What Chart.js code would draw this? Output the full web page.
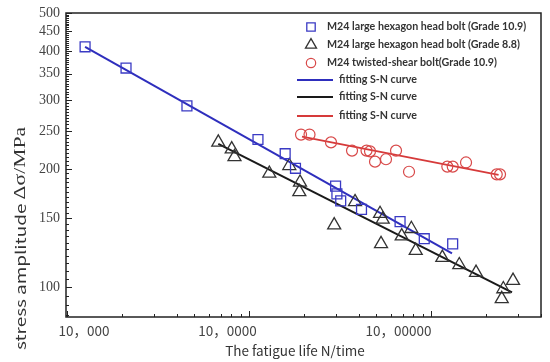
<!DOCTYPE html>
<html><head><meta charset="utf-8">
<script src="https://cdn.jsdelivr.net/npm/chart.js@4/dist/chart.umd.min.js"></script>
<style>html,body{margin:0;padding:0;background:#fff}#wrap{width:550px;height:362px}</style>
</head><body><div id="wrap"><canvas id="c" width="550" height="362"></canvas></div>
<script>
// ---- data ----
const bolt109N = [12570, 21100, 45600, 112000, 158000, 180000, 299000, 304000, 319000, 415000, 676000, 918000, 1315000];
const bolt109S = [410, 362, 290, 238, 219, 201, 181, 173, 166, 158, 147, 133, 129];
const bolt88N = [67800, 80350, 83230, 129300, 166500, 190600, 189000, 293800, 382300, 524700, 542800, 531300, 690200, 779700, 824000, 1154000, 1430000, 1767000, 2822000, 2496000, 2446000];
const bolt88S = [234, 225, 215, 195, 204, 185, 175, 144, 165, 154, 149, 129, 135, 141, 124, 119, 114, 109, 104, 99, 93.4];
const shearN = [193100, 215000, 282200, 368100, 442200, 462200, 492400, 565700, 642200, 757000, 1229000, 1316000, 1557000, 2296000, 2394000];
const shearS = [245, 245, 234, 223, 223, 222, 209, 212, 223, 197, 203, 203, 208, 194, 194];
const fitBlueN = [12570, 1304000];  const fitBlueS = [410, 122];
const fitBlackN = [67800, 2786000]; const fitBlackS = [232, 97];
const fitRedN = [195500, 2350000];  const fitRedS = [242, 193.5];
const yMajor = [100, 150, 200, 250, 300, 350, 400, 450, 500];
const xMajor = [10000, 100000, 1000000];
const xLabels = ['10，000', '10，0000', '10，00000'];
const legendLabels = ['M24 large hexagon head bolt (Grade 10.9)', 'M24 large hexagon head bolt (Grade 8.8)', 'M24 twisted-shear bolt(Grade 10.9)', 'fitting S-N curve', 'fitting S-N curve', 'fitting S-N curve'];
const xTitle = 'The fatigue life N/time';
const yTitleA = 'stress amplitude ';
const yTitleB = 'Δσ/MPa';

const pts = (xs, ys) => xs.map((x, i) => ({x, y: ys[i]}));
const BLUE = '#2e2ebd', BLACK = '#1a1a1a', RED = '#d63a3a';

const datasets = [
  {label: legendLabels[0], data: pts(bolt109N, bolt109S), pointStyle: 'rect', pointRadius: 7, borderColor: '#3a3ac4', backgroundColor: 'rgba(0,0,0,0)', borderWidth: 1.3, showLine: false, order: 1},
  {label: legendLabels[1], data: pts(bolt88N, bolt88S), pointStyle: 'triangle', pointRadius: 7.5, borderColor: '#333', backgroundColor: 'rgba(0,0,0,0)', borderWidth: 1.3, showLine: false, order: 1},
  {label: legendLabels[2], data: pts(shearN, shearS), pointStyle: 'circle', pointRadius: 5.5, borderColor: '#d84848', backgroundColor: 'rgba(0,0,0,0)', borderWidth: 1.2, showLine: false, order: 1},
  {label: legendLabels[3], data: pts(fitBlueN, fitBlueS), showLine: true, pointRadius: 0, borderColor: BLUE, borderWidth: 2, order: 2},
  {label: legendLabels[4], data: pts(fitBlackN, fitBlackS), showLine: true, pointRadius: 0, borderColor: BLACK, borderWidth: 2, order: 2},
  {label: legendLabels[5], data: pts(fitRedN, fitRedS), showLine: true, pointRadius: 0, borderColor: RED, borderWidth: 1.8, order: 2}
];

const deco = {
  id: 'deco',
  afterDatasetsDraw(chart) {
    const ctx = chart.ctx, a = chart.chartArea;
    const xs = chart.scales.x, ys = chart.scales.y;
    ctx.save();
    // frame
    ctx.strokeStyle = '#222'; ctx.lineWidth = 1.5;
    ctx.strokeRect(a.left, a.top, a.right - a.left, a.bottom - a.top);
    // y ticks (inward)
    ctx.lineWidth = 1;
    ctx.beginPath();
    for (let v = 85; v <= 500; v += 5) {
      const y = Math.round(ys.getPixelForValue(v)) + 0.5;
      const len = yMajor.includes(v) ? 6 : 3;
      ctx.moveTo(a.left, y); ctx.lineTo(a.left + len, y);
    }
    // x ticks (inward)
    for (let d = 10000; d <= 1000000; d *= 10) {
      for (let k = 1; k <= 9; k++) {
        const v = d * k;
        if (v < xs.min || v > xs.max) continue;
        const x = Math.round(xs.getPixelForValue(v)) + 0.5;
        const len = k === 1 ? 6 : 3;
        ctx.moveTo(x, a.bottom); ctx.lineTo(x, a.bottom - len);
      }
    }
    ctx.stroke();
    // y labels
    ctx.fillStyle = '#444';
    ctx.font = '14px "Liberation Serif", serif';
    ctx.textAlign = 'right'; ctx.textBaseline = 'middle';
    yMajor.forEach(v => ctx.fillText(String(v), a.left - 6, ys.getPixelForValue(v)));
    // x labels
    ctx.font = '13.5px "Noto Sans CJK SC", sans-serif';
    ctx.textAlign = 'center';
    const xOff = [17, -21.5, -32.5];
    xMajor.forEach((v, i) => ctx.fillText(xLabels[i], xs.getPixelForValue(v) + xOff[i], a.bottom + 14));
    // x title
    ctx.font = '13.5px "Noto Sans CJK SC", sans-serif';
    ctx.fillStyle = '#333';
    ctx.fillText(xTitle, 295, a.bottom + 34);
    // y title
    ctx.save();
    ctx.translate(21, 350); ctx.rotate(-Math.PI / 2);
    ctx.textAlign = 'left'; ctx.textBaseline = 'middle';
    const fA = '14px "Noto Sans CJK SC", sans-serif', fB = '16px "Liberation Serif", serif';
    ctx.font = fA; const wA = ctx.measureText(yTitleA).width;
    ctx.font = fB; const wB = ctx.measureText(yTitleB).width;
    const sc = 223 / (wA + wB);
    ctx.scale(sc, 1);
    ctx.font = fA; ctx.fillText(yTitleA, 0, 0);
    ctx.font = fB; ctx.fillText(yTitleB, wA, 0);
    ctx.restore();
    // legend
    const rowsY = [27, 45, 63, 80, 97, 116];
    ctx.textAlign = 'left'; ctx.textBaseline = 'middle';
    ctx.font = 'bold 11px Lato, sans-serif';
    const target = 193;
    const w2 = ctx.measureText(legendLabels[1]).width;
    const fs = 11 * target / w2;
    const legFont = 'bold ' + fs.toFixed(2) + 'px Lato, sans-serif';
    for (let i = 0; i < 6; i++) {
      const ds = chart.data.datasets[i];
      const y = rowsY[i];
      ctx.strokeStyle = ds.borderColor; ctx.lineWidth = ds.borderWidth;
      if (i < 3) {
        ctx.fillStyle = 'rgba(0,0,0,0)';
        Chart.helpers.drawPoint(ctx, {pointStyle: ds.pointStyle, radius: ds.pointRadius * 0.85, borderWidth: ds.borderWidth}, 311, y);
        ctx.fillStyle = '#333';
        ctx.font = legFont;
        ctx.fillText(ds.label, 327, y);
      } else {
        ctx.beginPath(); ctx.moveTo(297, y); ctx.lineTo(333, y); ctx.stroke();
        ctx.fillStyle = '#333';
        ctx.font = legFont;
        ctx.fillText(ds.label, 339, y);
      }
    }
    ctx.restore();
  }
};

new Chart(document.getElementById('c'), {
  type: 'scatter',
  data: {datasets},
  options: {
    responsive: false, animation: false,
    layout: {padding: {top: 13, right: 9, left: 0, bottom: 0}},
    plugins: {legend: {display: false}, tooltip: {enabled: false}},
    scales: {
      x: {type: 'logarithmic', min: 9874, max: 4020000,
          ticks: {display: false}, grid: {display: false}, border: {display: false},
          afterFit: s => { s.height = 45; }},
      y: {type: 'logarithmic', min: 84, max: 500,
          ticks: {display: false}, grid: {display: false}, border: {display: false},
          afterFit: s => { s.width = 66; }}
    }
  },
  plugins: [deco]
});
</script></body></html>
